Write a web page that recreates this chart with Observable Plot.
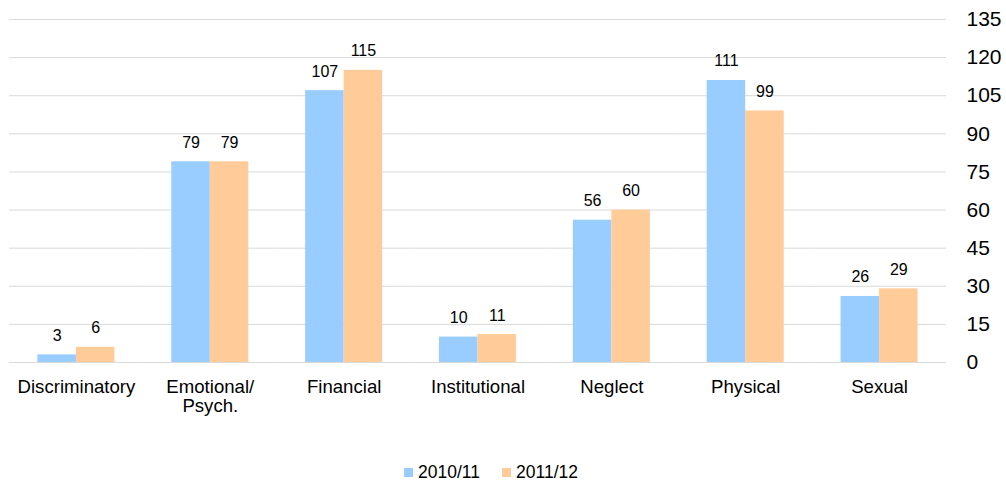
<!DOCTYPE html>
<html>
<head>
<meta charset="utf-8">
<script src="https://cdn.jsdelivr.net/npm/d3@7"></script>
<script src="https://cdn.jsdelivr.net/npm/@observablehq/plot@0.6"></script>
<style>
  html, body { margin: 0; padding: 0; background: #fff; }
  body { width: 1006px; height: 480px; overflow: hidden; font-family: "Liberation Sans", Arial, sans-serif; }
  #legend { height: 20px; display: flex; justify-content: center; align-items: center; font-size: 17.5px; color: #000; padding-right: 24px; }
  .item { display: flex; align-items: center; margin: 0 11px; }
  .sw { width: 9px; height: 9px; margin-right: 5px; }
</style>
</head>
<body>
<div id="chart"></div>
<div id="legend"></div>
<script>
const categories = ["Discriminatory", "Emotional/\nPsych.", "Financial", "Institutional", "Neglect", "Physical", "Sexual"];
const series = ["2010/11", "2011/12"];
const values2010 = [3, 79, 107, 10, 56, 111, 26];
const values2011 = [6, 79, 115, 11, 60, 99, 29];
const yTicks = [0, 15, 30, 45, 60, 75, 90, 105, 120, 135];
const colors = ["#99CCFF", "#FFCC99"];

const data = [];
categories.forEach((c, i) => {
  data.push({cat: c, series: series[0], value: values2010[i]});
  data.push({cat: c, series: series[1], value: values2011[i]});
});

const chart = Plot.plot({
  width: 1006,
  height: 462,
  marginLeft: 9,
  marginRight: 60,
  marginTop: 19,
  marginBottom: 100,
  style: {fontFamily: "'Liberation Sans', Arial, sans-serif", color: "#000", background: "#fff"},
  fx: {domain: categories, padding: 0, round: false, label: null},
  x: {domain: series, paddingInner: 0, paddingOuter: 0.738, round: false, axis: null},
  y: {domain: [0, 135], label: null, axis: null},
  color: {domain: series, range: colors},
  marks: [
    Plot.gridY(yTicks, {stroke: "#d9d9d9", strokeOpacity: 1, strokeWidth: 1}),
    Plot.axisY({ticks: yTicks, anchor: "right", tickSize: 0, tickPadding: 20, fontSize: 21, label: null}),
    Plot.axisFx({anchor: "bottom", tickSize: 0, tickPadding: 17, fontSize: 18.6, lineHeight: 1.03, label: null}),
    Plot.barY(data, {fx: "cat", x: "series", y: "value", fill: "series", inset: 0}),
    Plot.text(data, {fx: "cat", x: "series", y: "value", text: d => String(d.value), lineAnchor: "bottom", dy: -14, fontSize: 16, fill: "#000"})
  ]
});
document.getElementById("chart").appendChild(chart);

const legend = document.getElementById("legend");
series.forEach((s, i) => {
  const it = document.createElement("div");
  it.className = "item";
  const sw = document.createElement("span");
  sw.className = "sw";
  sw.style.background = colors[i];
  const t = document.createElement("span");
  t.textContent = s;
  it.appendChild(sw);
  it.appendChild(t);
  legend.appendChild(it);
});
</script>
</body>
</html>
